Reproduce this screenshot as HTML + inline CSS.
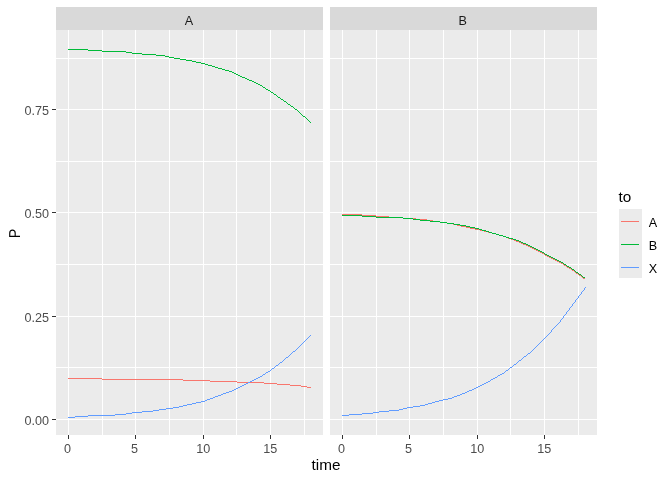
<!DOCTYPE html>
<html><head><meta charset="utf-8"><title>plot</title>
<style>
html,body{margin:0;padding:0;background:#fff;}
body{width:672px;height:480px;overflow:hidden;}
svg{display:block;}
text{font-family:"Liberation Sans",Arial,sans-serif;}
.ax{font-size:12.6px;fill:#4D4D4D;}
.st{font-size:12.6px;fill:#1A1A1A;}
.ti{font-size:15.3px;fill:#000;}
.lg{font-size:12.6px;fill:#000;}
</style></head><body>
<svg width="672" height="480" viewBox="0 0 672 480">
<rect width="672" height="480" fill="#fff"/>
<g shape-rendering="crispEdges">
<rect x="56" y="7" width="267" height="23" fill="#D9D9D9"/>
<rect x="56" y="30" width="267" height="405" fill="#EBEBEB"/>
<path d="M56 58.5h267M56 109.5h267M56 161.5h267M56 212.5h267M56 264.5h267M56 316.5h267M56 367.5h267M56 419.5h267M68.5 30v405M102.5 30v405M135.5 30v405M169.5 30v405M203.5 30v405M236.5 30v405M270.5 30v405M304.5 30v405" stroke="#fff" stroke-width="1" fill="none"/>
<path d="M68 378.5h34M102 379.5h81M183 380.5h27M210 381.5h27M237 382.5h27M264 383.5h13M277 384.5h13M290 385.5h11M301 386.5h6M307 387.5h4" stroke="#F8766D" stroke-width="1" fill="none"/>
<path d="M68 49.5h20M88 50.5h14M102 51.5h24M126 52.5h6M132 53.5h10M142 54.5h14M156 55.5h9M165 56.5h4M169 57.5h5M174 58.5h6M180 59.5h6M186 60.5h6M192 61.5h4M196 62.5h5M201 63.5h4M205 64.5h3M208 65.5h4M212 66.5h3M215 67.5h3M218 68.5h4M222 69.5h3M225 70.5h4M229 71.5h3M232 72.5h2M234 73.5h2M236 74.5h2M238 75.5h2M240 76.5h2M242 77.5h3M245 78.5h2M247 79.5h2M249 80.5h3M252 81.5h2M254 82.5h2M256 83.5h2M258 84.5h2M260 85.5h2M262 86.5h1M263 87.5h2M265 88.5h1M266 89.5h2M268 90.5h2M270 91.5h1M271 92.5h2M273 93.5h1M274 94.5h2M276 95.5h1M277 96.5h1M278 97.5h2M280 98.5h1M281 99.5h2M283 100.5h1M284 101.5h2M286 102.5h1M287 103.5h1M288 104.5h2M290 105.5h1M291 106.5h2M293 107.5h1M294 108.5h1M295 109.5h2M297 110.5h1M298 111.5h1M299 112.5h1M300 113.5h1M301 114.5h1M302 115.5h1M303 116.5h2M305 117.5h1M306 118.5h1M307 119.5h1M308 120.5h1M309 121.5h1M310 122.5h1" stroke="#00BA38" stroke-width="1" fill="none"/>
<path d="M310 335.5h1M309 336.5h1M308 337.5h1M307 338.5h1M306 339.5h1M305 340.5h1M304 341.5h1M303 342.5h1M302 343.5h1M301 344.5h1M300 345.5h1M299 346.5h1M298 347.5h1M297 348.5h1M296 349.5h1M295 350.5h1M293 351.5h2M292 352.5h1M291 353.5h1M290 354.5h1M289 355.5h1M288 356.5h1M286 357.5h2M285 358.5h1M284 359.5h1M283 360.5h1M282 361.5h1M280 362.5h2M279 363.5h1M278 364.5h1M276 365.5h2M275 366.5h1M274 367.5h1M272 368.5h2M271 369.5h1M270 370.5h1M268 371.5h2M266 372.5h2M265 373.5h1M263 374.5h2M262 375.5h1M260 376.5h2M258 377.5h2M256 378.5h2M254 379.5h2M252 380.5h2M250 381.5h2M248 382.5h2M246 383.5h2M244 384.5h2M242 385.5h2M240 386.5h2M238 387.5h2M236 388.5h2M234 389.5h2M232 390.5h2M229 391.5h3M226 392.5h3M223 393.5h3M221 394.5h2M218 395.5h3M215 396.5h3M213 397.5h2M210 398.5h3M207 399.5h3M205 400.5h2M201 401.5h4M196 402.5h5M192 403.5h4M187 404.5h5M183 405.5h4M179 406.5h4M173 407.5h6M166 408.5h7M159 409.5h7M153 410.5h6M142 411.5h11M132 412.5h10M126 413.5h6M115 414.5h11M88 415.5h27M75 416.5h13M68 417.5h7" stroke="#619CFF" stroke-width="1" fill="none"/>
<path d="M68.5 435v4M135.5 435v4M203.5 435v4M270.5 435v4" stroke="#333" stroke-width="1" fill="none"/>
<rect x="330" y="7" width="267" height="23" fill="#D9D9D9"/>
<rect x="330" y="30" width="267" height="405" fill="#EBEBEB"/>
<path d="M330 58.5h267M330 109.5h267M330 161.5h267M330 212.5h267M330 264.5h267M330 316.5h267M330 367.5h267M330 419.5h267M342.5 30v405M376.5 30v405M409.5 30v405M443.5 30v405M477.5 30v405M510.5 30v405M544.5 30v405M578.5 30v405" stroke="#fff" stroke-width="1" fill="none"/>
<path d="M342 214.5h20M362 215.5h14M376 216.5h13M389 217.5h14M403 218.5h13M416 219.5h11M427 220.5h6M433 221.5h7M440 222.5h7M447 223.5h6M453 224.5h4M457 225.5h4M461 226.5h5M466 227.5h4M470 228.5h5M475 229.5h5M480 230.5h4M484 231.5h4M488 232.5h4M492 233.5h4M496 234.5h3M499 235.5h4M503 236.5h3M506 237.5h2M508 238.5h3M511 239.5h3M514 240.5h2M516 241.5h3M519 242.5h2M521 243.5h2M523 244.5h3M526 245.5h2M528 246.5h2M530 247.5h2M532 248.5h2M534 249.5h2M536 250.5h2M538 251.5h2M540 252.5h2M542 253.5h2M544 254.5h1M545 255.5h2M547 256.5h2M549 257.5h2M551 258.5h2M553 259.5h2M555 260.5h2M557 261.5h2M559 262.5h2M561 263.5h2M563 264.5h1M564 265.5h2M566 266.5h1M567 267.5h2M569 268.5h2M571 269.5h1M572 270.5h2M574 271.5h1M575 272.5h1M576 273.5h2M578 274.5h1M579 275.5h2M581 276.5h1M582 277.5h1M583 278.5h2" stroke="#F8766D" stroke-width="1" fill="none"/>
<path d="M342 215.5h20M362 216.5h14M376 217.5h27M403 218.5h10M413 219.5h7M420 220.5h10M430 221.5h10M440 222.5h7M447 223.5h7M454 224.5h6M460 225.5h6M466 226.5h4M470 227.5h5M475 228.5h4M479 229.5h3M482 230.5h4M486 231.5h3M489 232.5h3M492 233.5h4M496 234.5h3M499 235.5h4M503 236.5h3M506 237.5h3M509 238.5h4M513 239.5h3M516 240.5h3M519 241.5h2M521 242.5h2M523 243.5h3M526 244.5h2M528 245.5h2M530 246.5h2M532 247.5h2M534 248.5h2M536 249.5h2M538 250.5h2M540 251.5h2M542 252.5h2M544 253.5h1M545 254.5h2M547 255.5h2M549 256.5h2M551 257.5h2M553 258.5h2M555 259.5h2M557 260.5h2M559 261.5h2M561 262.5h2M563 263.5h1M564 264.5h2M566 265.5h1M567 266.5h2M569 267.5h2M571 268.5h1M572 269.5h2M574 270.5h1M575 271.5h1M576 272.5h2M578 273.5h1M579 274.5h2M581 275.5h1M582 276.5h1M583 277.5h2" stroke="#00BA38" stroke-width="1" fill="none"/>
<path d="M585 287.5h1M584 288.5h1M584 289.5h1M583 290.5h1M582 291.5h1M581 292.5h1M581 293.5h1M580 294.5h1M579 295.5h1M578 296.5h1M578 297.5h1M577 298.5h1M576 299.5h1M575 300.5h1M575 301.5h1M574 302.5h1M573 303.5h1M572 304.5h1M572 305.5h1M571 306.5h1M570 307.5h1M569 308.5h1M569 309.5h1M568 310.5h1M567 311.5h1M566 312.5h1M566 313.5h1M565 314.5h1M564 315.5h1M563 316.5h1M563 317.5h1M562 318.5h1M561 319.5h1M560 320.5h1M560 321.5h1M559 322.5h1M558 323.5h1M557 324.5h1M556 325.5h1M555 326.5h1M554 327.5h1M553 328.5h1M552 329.5h1M551 330.5h1M551 331.5h1M550 332.5h1M549 333.5h1M548 334.5h1M547 335.5h1M546 336.5h1M545 337.5h1M544 338.5h1M543 339.5h1M542 340.5h1M541 341.5h1M540 342.5h1M539 343.5h1M538 344.5h1M537 345.5h1M536 346.5h1M535 347.5h1M534 348.5h1M533 349.5h1M532 350.5h1M531 351.5h1M530 352.5h1M528 353.5h2M527 354.5h1M526 355.5h1M524 356.5h2M523 357.5h1M522 358.5h1M521 359.5h1M519 360.5h2M518 361.5h1M517 362.5h1M516 363.5h1M514 364.5h2M513 365.5h1M512 366.5h1M510 367.5h2M509 368.5h1M508 369.5h1M506 370.5h2M505 371.5h1M504 372.5h1M502 373.5h2M500 374.5h2M498 375.5h2M497 376.5h1M495 377.5h2M493 378.5h2M491 379.5h2M490 380.5h1M488 381.5h2M486 382.5h2M484 383.5h2M482 384.5h2M480 385.5h2M478 386.5h2M476 387.5h2M474 388.5h2M472 389.5h2M469 390.5h3M467 391.5h2M465 392.5h2M462 393.5h3M460 394.5h2M457 395.5h3M454 396.5h3M452 397.5h2M448 398.5h4M443 399.5h5M439 400.5h4M435 401.5h4M432 402.5h3M428 403.5h4M425 404.5h3M420 405.5h5M413 406.5h7M407 407.5h6M403 408.5h4M399 409.5h4M389 410.5h10M379 411.5h10M373 412.5h6M362 413.5h11M349 414.5h13M342 415.5h7" stroke="#619CFF" stroke-width="1" fill="none"/>
<path d="M342.5 435v4M409.5 435v4M477.5 435v4M544.5 435v4" stroke="#333" stroke-width="1" fill="none"/>
<path d="M52 109.5h4M52 212.5h4M52 316.5h4M52 419.5h4" stroke="#333" stroke-width="1" fill="none"/>
<rect x="619" y="209" width="23" height="69" fill="#EBEBEB"/>
<path d="M621 221.5h18" stroke="#F8766D" stroke-width="1" fill="none"/>
<path d="M621 244.5h18" stroke="#00BA38" stroke-width="1" fill="none"/>
<path d="M621 267.5h18" stroke="#619CFF" stroke-width="1" fill="none"/>
</g>
<text class="ax" x="49" y="115" text-anchor="end">0.75</text>
<text class="ax" x="49" y="218" text-anchor="end">0.50</text>
<text class="ax" x="49" y="322" text-anchor="end">0.25</text>
<text class="ax" x="49" y="425" text-anchor="end">0.00</text>
<text class="ax" x="67.5" y="453" text-anchor="middle">0</text>
<text class="ax" x="134.5" y="453" text-anchor="middle">5</text>
<text class="ax" x="203.3" y="453" text-anchor="middle">10</text>
<text class="ax" x="270.3" y="453" text-anchor="middle">15</text>
<text class="ax" x="341.5" y="453" text-anchor="middle">0</text>
<text class="ax" x="408.5" y="453" text-anchor="middle">5</text>
<text class="ax" x="477.3" y="453" text-anchor="middle">10</text>
<text class="ax" x="544.3" y="453" text-anchor="middle">15</text>
<text class="st" x="188.9" y="25" text-anchor="middle">A</text>
<text class="st" x="462.8" y="25" text-anchor="middle">B</text>
<text class="ti" x="326" y="469.8" text-anchor="middle">time</text>
<text class="ti" transform="translate(20,233.4) rotate(-89.9) scale(0.9,1)" style="font-size:15.8px" text-anchor="middle">P</text>
<text class="ti" x="618.5" y="202">to</text>
<text class="lg" x="648.8" y="227">A</text>
<text class="lg" x="648.8" y="250">B</text>
<text class="lg" x="648.8" y="273">X</text>
</svg></body></html>
